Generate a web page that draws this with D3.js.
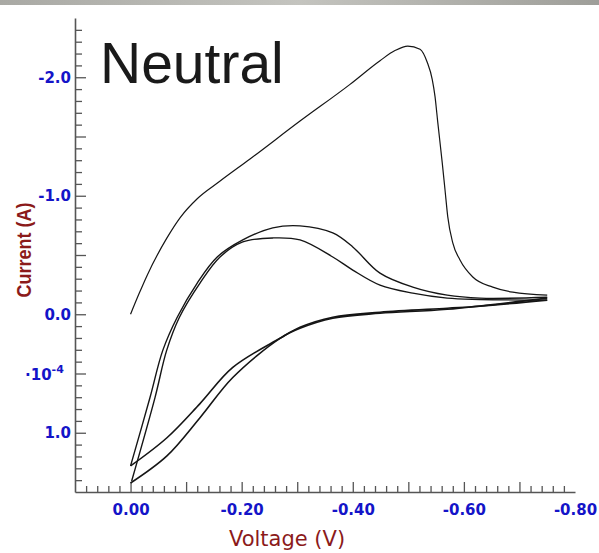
<!DOCTYPE html>
<html><head><meta charset="utf-8">
<script src="https://cdn.jsdelivr.net/npm/d3@7/dist/d3.min.js"></script>
<style>body{margin:0;background:#fff;}svg{display:block;}</style>
</head><body>
<svg id="c" width="599" height="553"></svg>
<script>
// ---- data (voltage V, current in units of 1e-4 A) ----
const scan1V = [0, -0.015, -0.03, -0.065, -0.09, -0.12, -0.16, -0.215, -0.305, -0.395, -0.449, -0.476, -0.499, -0.521, -0.534, -0.543, -0.548, -0.553, -0.561, -0.566, -0.571, -0.580, -0.593, -0.616, -0.652, -0.688, -0.75];
const scan1I = [0, -0.17, -0.33, -0.64, -0.82, -0.975, -1.12, -1.31, -1.63, -1.94, -2.14, -2.225, -2.263, -2.237, -2.127, -1.983, -1.839, -1.619, -1.280, -1.051, -0.822, -0.602, -0.458, -0.314, -0.229, -0.186, -0.161];

const humpAV = [-0.75, -0.629, -0.570, -0.508, -0.449, -0.400, -0.364, -0.305, -0.256, -0.202, -0.156, -0.120, -0.084, -0.058, -0.035, 0];
const humpAI = [-0.144, -0.136, -0.161, -0.229, -0.347, -0.568, -0.686, -0.746, -0.729, -0.627, -0.483, -0.263, 0.025, 0.305, 0.703, 1.280];

const humpBV = [-0.75, -0.629, -0.570, -0.508, -0.449, -0.400, -0.364, -0.305, -0.256, -0.202, -0.161, -0.125, -0.088, -0.065, -0.044, -0.002];
const humpBI = [-0.119, -0.125, -0.136, -0.178, -0.246, -0.373, -0.483, -0.627, -0.644, -0.610, -0.483, -0.263, 0.025, 0.305, 0.703, 1.407];

const baseCV = [0, -0.0655, -0.125, -0.184, -0.269, -0.305, -0.364, -0.449, -0.570, -0.629, -0.75];
const baseCI = [1.280, 1.042, 0.754, 0.449, 0.203, 0.110, 0.025, -0.017, -0.051, -0.068, -0.119];

const baseDV = [0, -0.0655, -0.125, -0.184, -0.269, -0.305, -0.364, -0.449, -0.570, -0.75];
const baseDI = [1.424, 1.195, 0.873, 0.534, 0.203, 0.119, 0.034, -0.008, -0.042, -0.136];

const xTickValues = [0, -0.2, -0.4, -0.6, -0.8];
const xTickLabels = ["0.00", "-0.20", "-0.40", "-0.60", "-0.80"];
const yTickValues = [-2, -1, 0, 1];
const yTickLabels = ["-2.0", "-1.0", "0.0", "1.0"];
const title = "Neutral";
const xTitle = "Voltage (V)";
const yTitle = "Current (A)";

// ---- chart ----
const svg = d3.select("#c");
const defs = svg.append("defs");
const g = defs.append("linearGradient").attr("id","bar").attr("x1",0).attr("x2",1).attr("y1",0).attr("y2",0);
g.append("stop").attr("offset","0%").attr("stop-color","#a9a9a4");
g.append("stop").attr("offset","50%").attr("stop-color","#c4c4bf");
g.append("stop").attr("offset","100%").attr("stop-color","#9e9e99");
svg.append("rect").attr("x",0).attr("y",0).attr("width",599).attr("height",5).attr("fill","url(#bar)");

const x = d3.scaleLinear().domain([0.1, -0.8]).range([75, 575]);
const y = d3.scaleLinear().domain([-2.5, 1.5]).range([18, 492]);

const axisColor = "#555";
const labelColor = "#1414c8";
const titleColor = "#8b1a1a";

// minor x ticks
const xMinor = d3.range(4, -40, -1).map(k => k * 0.02).filter(v => Math.abs(Math.round(v*100)) % 10 !== 0);
const xMid = d3.range(0, -8, -1).map(k => k * 0.1);
const gx = svg.append("g").attr("transform", "translate(0,492)");
gx.call(d3.axisBottom(x).tickValues(xMinor).tickSizeInner(-6).tickSizeOuter(0).tickFormat(""));
const gx2 = svg.append("g").attr("transform", "translate(0,492)");
gx2.call(d3.axisBottom(x).tickValues(xMid).tickSizeInner(-10).tickSizeOuter(0).tickFormat(""));
const gx3 = svg.append("g").attr("transform", "translate(0,492)");
gx3.call(d3.axisBottom(x).tickValues(xTickValues).tickSize(0).tickPadding(12)
  .tickFormat((d,i) => xTickLabels[i]));
gx3.select(".domain").remove();
gx2.select(".domain").remove();
[gx, gx2].forEach(s => {
  s.selectAll("line").attr("stroke", axisColor).attr("stroke-width", 1.3);
  s.selectAll(".domain").attr("stroke", axisColor).attr("stroke-width", 1.6);
});
gx3.selectAll("text").attr("fill", labelColor).attr("font-family", "DejaVu Sans").attr("font-weight", "bold").attr("font-size", "15px");

// y ticks
const yMinor = d3.range(-24, 15).map(k => k / 10).filter(v => Math.abs(Math.round(v*10)) % 5 !== 0);
const yMajor = d3.range(-4, 3).map(k => k * 0.5);
const gy = svg.append("g").attr("transform", "translate(75,0)");
gy.call(d3.axisLeft(y).tickValues(yMinor).tickSizeInner(-7).tickSizeOuter(0).tickFormat(""));
const gy2 = svg.append("g").attr("transform", "translate(75,0)");
gy2.call(d3.axisLeft(y).tickValues(yMajor).tickSizeInner(-11).tickSizeOuter(0).tickFormat(""));
gy2.select(".domain").remove();
const gy3 = svg.append("g").attr("transform", "translate(75,0)");
gy3.call(d3.axisLeft(y).tickValues(yTickValues).tickSize(0).tickPadding(4).tickFormat((d,i) => yTickLabels[i]));
gy3.select(".domain").remove();
[gy, gy2].forEach(s => {
  s.selectAll("line").attr("stroke", axisColor).attr("stroke-width", 1.3);
  s.selectAll(".domain").attr("stroke", axisColor).attr("stroke-width", 1.6);
});
gy3.selectAll("text").attr("fill", labelColor).attr("font-family", "DejaVu Sans").attr("font-weight", "bold").attr("font-size", "15px");

// multiplier label
const mult = svg.append("text").attr("x", 25).attr("y", 380)
  .attr("fill", labelColor).attr("font-family", "DejaVu Sans").attr("font-weight", "bold").attr("font-size", "15px");
mult.append("tspan").text("·10");
mult.append("tspan").attr("dy", -7).attr("font-size", "11px").text("-4");

// titles
svg.append("text").attr("transform", "translate(31,250) scale(1.15,1) rotate(-90)")
  .attr("text-anchor", "middle").attr("fill", titleColor)
  .attr("font-family", "Liberation Sans, Arial").attr("font-weight", "bold").attr("font-size", "18px").text(yTitle);
svg.append("text").attr("x", 287).attr("y", 546).attr("text-anchor", "middle").attr("fill", titleColor)
  .attr("font-family", "DejaVu Sans").attr("font-size", "21px").text(xTitle);
svg.append("text").attr("x", 100).attr("y", 83).attr("fill", "#1a1a1a")
  .attr("font-family", "Liberation Sans, Arial").attr("font-size", "57px").text(title);

// curves
const lineMono = d3.line().x(d => x(d[0])).y(d => y(d[1])).curve(d3.curveMonotoneX);
const line = d3.line().x(d => x(d[0])).y(d => y(d[1])).curve(d3.curveCatmullRom.alpha(0.5));
const series = [
  [scan1V, scan1I, 1.2, lineMono],
  [humpAV, humpAI, 1.4, line],
  [humpBV, humpBI, 1.4, line],
  [baseCV, baseCI, 1.6, line],
  [baseDV, baseDI, 1.6, line]
];
series.forEach(([vs, is, w, gen]) => {
  svg.append("path").datum(vs.map((v, i) => [v, is[i]]))
    .attr("d", gen).attr("fill", "none").attr("stroke", "#151515").attr("stroke-width", w);
});
</script>
</body></html>
